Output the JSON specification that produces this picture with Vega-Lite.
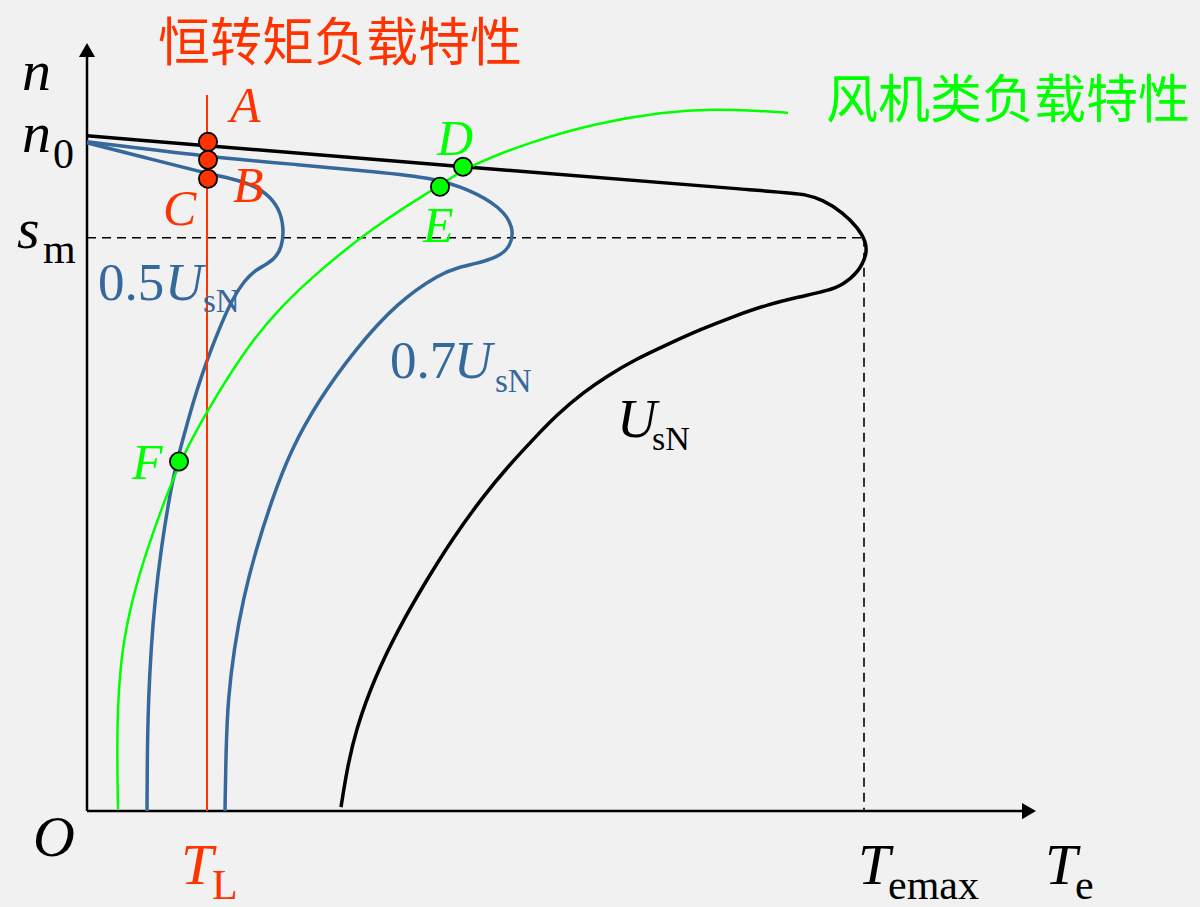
{
  "$schema": "https://vega.github.io/schema/vega-lite/v6.json",
  "width": 1200,
  "height": 907,
  "autosize": {"type": "fit", "contains": "padding"},
  "padding": 0,
  "background": "#f1f1f1",
  "config": {"view": {"stroke": null}},
  "datasets": {
    "curves": [
      {"curve": "UsN", "i": 0, "t": 0, "n": 676},
      {"curve": "UsN", "i": 1, "t": 376, "n": 645},
      {"curve": "UsN", "i": 2, "t": 701, "n": 619},
      {"curve": "UsN", "i": 3, "t": 716, "n": 618},
      {"curve": "UsN", "i": 4, "t": 736, "n": 612},
      {"curve": "UsN", "i": 5, "t": 756, "n": 599},
      {"curve": "UsN", "i": 6, "t": 771, "n": 584},
      {"curve": "UsN", "i": 7, "t": 779, "n": 570},
      {"curve": "UsN", "i": 8, "t": 780, "n": 557},
      {"curve": "UsN", "i": 9, "t": 771, "n": 539},
      {"curve": "UsN", "i": 10, "t": 756, "n": 527},
      {"curve": "UsN", "i": 11, "t": 741, "n": 521},
      {"curve": "UsN", "i": 12, "t": 713, "n": 515},
      {"curve": "UsN", "i": 13, "t": 680, "n": 507},
      {"curve": "UsN", "i": 14, "t": 646, "n": 495},
      {"curve": "UsN", "i": 15, "t": 613, "n": 482},
      {"curve": "UsN", "i": 16, "t": 580, "n": 467},
      {"curve": "UsN", "i": 17, "t": 548, "n": 452},
      {"curve": "UsN", "i": 18, "t": 521, "n": 436},
      {"curve": "UsN", "i": 19, "t": 496, "n": 419},
      {"curve": "UsN", "i": 20, "t": 470, "n": 397},
      {"curve": "UsN", "i": 21, "t": 446, "n": 372},
      {"curve": "UsN", "i": 22, "t": 421, "n": 345},
      {"curve": "UsN", "i": 23, "t": 396, "n": 315},
      {"curve": "UsN", "i": 24, "t": 365, "n": 272},
      {"curve": "UsN", "i": 25, "t": 340, "n": 232},
      {"curve": "UsN", "i": 26, "t": 311, "n": 182},
      {"curve": "UsN", "i": 27, "t": 287, "n": 132},
      {"curve": "UsN", "i": 28, "t": 269, "n": 82},
      {"curve": "UsN", "i": 29, "t": 260, "n": 42},
      {"curve": "UsN", "i": 30, "t": 254, "n": 4},

      {"curve": "0.7UsN", "i": 0, "t": 0, "n": 670},
      {"curve": "0.7UsN", "i": 1, "t": 121, "n": 655},
      {"curve": "0.7UsN", "i": 2, "t": 213, "n": 647},
      {"curve": "0.7UsN", "i": 3, "t": 290, "n": 640},
      {"curve": "0.7UsN", "i": 4, "t": 346, "n": 634},
      {"curve": "0.7UsN", "i": 5, "t": 383, "n": 622},
      {"curve": "0.7UsN", "i": 6, "t": 413, "n": 605},
      {"curve": "0.7UsN", "i": 7, "t": 427, "n": 585},
      {"curve": "0.7UsN", "i": 8, "t": 424, "n": 565},
      {"curve": "0.7UsN", "i": 9, "t": 410, "n": 554},
      {"curve": "0.7UsN", "i": 10, "t": 388, "n": 548},
      {"curve": "0.7UsN", "i": 11, "t": 371, "n": 544},
      {"curve": "0.7UsN", "i": 12, "t": 353, "n": 538},
      {"curve": "0.7UsN", "i": 13, "t": 310, "n": 509},
      {"curve": "0.7UsN", "i": 14, "t": 268, "n": 462},
      {"curve": "0.7UsN", "i": 15, "t": 232, "n": 412},
      {"curve": "0.7UsN", "i": 16, "t": 204, "n": 362},
      {"curve": "0.7UsN", "i": 17, "t": 185, "n": 312},
      {"curve": "0.7UsN", "i": 18, "t": 169, "n": 262},
      {"curve": "0.7UsN", "i": 19, "t": 156, "n": 212},
      {"curve": "0.7UsN", "i": 20, "t": 147, "n": 162},
      {"curve": "0.7UsN", "i": 21, "t": 141, "n": 112},
      {"curve": "0.7UsN", "i": 22, "t": 139, "n": 62},
      {"curve": "0.7UsN", "i": 23, "t": 138, "n": 0},

      {"curve": "0.5UsN", "i": 0, "t": 0, "n": 669},
      {"curve": "0.5UsN", "i": 1, "t": 63, "n": 653},
      {"curve": "0.5UsN", "i": 2, "t": 121, "n": 638},
      {"curve": "0.5UsN", "i": 3, "t": 146, "n": 633},
      {"curve": "0.5UsN", "i": 4, "t": 165, "n": 627},
      {"curve": "0.5UsN", "i": 5, "t": 180, "n": 618},
      {"curve": "0.5UsN", "i": 6, "t": 192, "n": 604},
      {"curve": "0.5UsN", "i": 7, "t": 197, "n": 584},
      {"curve": "0.5UsN", "i": 8, "t": 195, "n": 564},
      {"curve": "0.5UsN", "i": 9, "t": 187, "n": 552},
      {"curve": "0.5UsN", "i": 10, "t": 175, "n": 545},
      {"curve": "0.5UsN", "i": 11, "t": 168, "n": 541},
      {"curve": "0.5UsN", "i": 12, "t": 158, "n": 532},
      {"curve": "0.5UsN", "i": 13, "t": 145, "n": 512},
      {"curve": "0.5UsN", "i": 14, "t": 134, "n": 487},
      {"curve": "0.5UsN", "i": 15, "t": 124, "n": 462},
      {"curve": "0.5UsN", "i": 16, "t": 115, "n": 437},
      {"curve": "0.5UsN", "i": 17, "t": 107, "n": 412},
      {"curve": "0.5UsN", "i": 18, "t": 100, "n": 387},
      {"curve": "0.5UsN", "i": 19, "t": 93, "n": 362},
      {"curve": "0.5UsN", "i": 20, "t": 87, "n": 337},
      {"curve": "0.5UsN", "i": 21, "t": 82, "n": 312},
      {"curve": "0.5UsN", "i": 22, "t": 74, "n": 262},
      {"curve": "0.5UsN", "i": 23, "t": 68, "n": 212},
      {"curve": "0.5UsN", "i": 24, "t": 64, "n": 162},
      {"curve": "0.5UsN", "i": 25, "t": 61.5, "n": 112},
      {"curve": "0.5UsN", "i": 26, "t": 60.3, "n": 62},
      {"curve": "0.5UsN", "i": 27, "t": 60, "n": 0},

      {"curve": "fan", "i": 0, "t": 31, "n": 2},
      {"curve": "fan", "i": 1, "t": 30, "n": 62},
      {"curve": "fan", "i": 2, "t": 31, "n": 112},
      {"curve": "fan", "i": 3, "t": 35, "n": 162},
      {"curve": "fan", "i": 4, "t": 45, "n": 212},
      {"curve": "fan", "i": 5, "t": 60, "n": 262},
      {"curve": "fan", "i": 6, "t": 78, "n": 312},
      {"curve": "fan", "i": 7, "t": 93, "n": 350},
      {"curve": "fan", "i": 8, "t": 119, "n": 399},
      {"curve": "fan", "i": 9, "t": 158, "n": 462},
      {"curve": "fan", "i": 10, "t": 191, "n": 502},
      {"curve": "fan", "i": 11, "t": 226, "n": 535},
      {"curve": "fan", "i": 12, "t": 258, "n": 562},
      {"curve": "fan", "i": 13, "t": 286, "n": 583},
      {"curve": "fan", "i": 14, "t": 318, "n": 605},
      {"curve": "fan", "i": 15, "t": 351, "n": 625},
      {"curve": "fan", "i": 16, "t": 380, "n": 645},
      {"curve": "fan", "i": 17, "t": 443, "n": 670},
      {"curve": "fan", "i": 18, "t": 510, "n": 689},
      {"curve": "fan", "i": 19, "t": 576, "n": 700},
      {"curve": "fan", "i": 20, "t": 626, "n": 703},
      {"curve": "fan", "i": 21, "t": 676, "n": 701},
      {"curve": "fan", "i": 22, "t": 701, "n": 699}
    ],
    "axes": [
      {"axis": "n", "i": 0, "t": 0, "n": 0},
      {"axis": "n", "i": 1, "t": 0, "n": 757},
      {"axis": "T", "i": 0, "t": 0, "n": 0},
      {"axis": "T", "i": 1, "t": 936, "n": 0}
    ],
    "arrows": [
      {"axis": "n", "t": 0, "n": 762},
      {"axis": "T", "t": 942, "n": 0}
    ],
    "guides": [
      {"g": "h", "i": 0, "t": 0, "n": 574},
      {"g": "h", "i": 1, "t": 777, "n": 574},
      {"g": "v", "i": 0, "t": 777, "n": 574},
      {"g": "v", "i": 1, "t": 777, "n": 0}
    ],
    "load": [
      {"i": 0, "t": 120, "n": 0},
      {"i": 1, "t": 120, "n": 717}
    ],
    "points": [
      {"set": "load", "name": "A", "t": 121, "n": 670},
      {"set": "load", "name": "B", "t": 121, "n": 652},
      {"set": "load", "name": "C", "t": 121, "n": 633},
      {"set": "fan", "name": "D", "t": 376, "n": 645},
      {"set": "fan", "name": "E", "t": 353, "n": 625},
      {"set": "fan", "name": "F", "t": 92, "n": 350}
    ],
    "labels": [
      {"role": "var", "text": "n", "t": -65, "n": 722},
      {"role": "var", "text": "n", "t": -65, "n": 660},
      {"role": "sub", "text": "0", "t": -34, "n": 644},
      {"role": "var", "text": "s", "t": -70, "n": 564},
      {"role": "sub", "text": "m", "t": -44, "n": 549},
      {"role": "var", "text": "O", "t": -54, "n": -45},
      {"role": "var", "text": "T", "t": 771, "n": -73},
      {"role": "sub", "text": "emax", "t": 801, "n": -88},
      {"role": "var", "text": "T", "t": 958, "n": -73},
      {"role": "sub", "text": "e", "t": 988, "n": -88},
      {"role": "varRed", "text": "T", "t": 94, "n": -73},
      {"role": "subRed", "text": "L", "t": 125, "n": -88},
      {"role": "ptRed", "text": "A", "t": 143, "n": 690},
      {"role": "ptRed", "text": "B", "t": 146, "n": 610},
      {"role": "ptRed", "text": "C", "t": 76, "n": 587},
      {"role": "ptGreen", "text": "D", "t": 350, "n": 657},
      {"role": "ptGreen", "text": "E", "t": 336, "n": 570},
      {"role": "ptGreen", "text": "F", "t": 45, "n": 332},
      {"role": "numBlue", "text": "0.5", "t": 11, "n": 512},
      {"role": "uBlue", "text": "U", "t": 78, "n": 512},
      {"role": "subBlue", "text": "sN", "t": 116, "n": 500},
      {"role": "numBlue", "text": "0.7", "t": 303, "n": 434},
      {"role": "uBlue", "text": "U", "t": 367, "n": 434},
      {"role": "subBlue", "text": "sN", "t": 408, "n": 420},
      {"role": "uBlack", "text": "U", "t": 530, "n": 375},
      {"role": "subBlack", "text": "sN", "t": 565, "n": 362},
      {"role": "titleRed", "text": "恒转矩负载特性", "t": 253, "n": 767},
      {"role": "titleGreen", "text": "风机类负载特性", "t": 921, "n": 710}
    ]
  },
  "encoding": {
    "x": {"field": "t", "type": "quantitative", "scale": {"domain": [-87, 1113], "nice": false, "zero": false}, "axis": null},
    "y": {"field": "n", "type": "quantitative", "scale": {"domain": [-95, 812], "nice": false, "zero": false}, "axis": null}
  },
  "layer": [
    {
      "data": {"name": "guides"},
      "mark": {"type": "line", "color": "#000000", "strokeWidth": 1.6, "strokeDash": [9, 6]},
      "encoding": {"detail": {"field": "g"}, "order": {"field": "i"}}
    },
    {
      "data": {"name": "axes"},
      "mark": {"type": "line", "color": "#000000", "strokeWidth": 2.5},
      "encoding": {"detail": {"field": "axis"}, "order": {"field": "i"}}
    },
    {
      "data": {"name": "arrows"},
      "transform": [{"filter": "datum.axis == 'n'"}],
      "mark": {"type": "point", "shape": "triangle-up", "filled": true, "color": "#000000", "size": 260, "opacity": 1}
    },
    {
      "data": {"name": "arrows"},
      "transform": [{"filter": "datum.axis == 'T'"}],
      "mark": {"type": "point", "shape": "triangle-right", "filled": true, "color": "#000000", "size": 260, "opacity": 1}
    },
    {
      "data": {"name": "curves"},
      "transform": [{"filter": "datum.curve == 'UsN'"}],
      "mark": {"type": "line", "color": "#000000", "strokeWidth": 3.5, "interpolate": "basis"},
      "encoding": {"order": {"field": "i"}}
    },
    {
      "data": {"name": "curves"},
      "transform": [{"filter": "datum.curve == '0.7UsN' || datum.curve == '0.5UsN'"}],
      "mark": {"type": "line", "color": "#35689b", "strokeWidth": 3.5, "interpolate": "basis"},
      "encoding": {"detail": {"field": "curve"}, "order": {"field": "i"}}
    },
    {
      "data": {"name": "load"},
      "mark": {"type": "line", "color": "#ff3300", "strokeWidth": 2},
      "encoding": {"order": {"field": "i"}}
    },
    {
      "data": {"name": "curves"},
      "transform": [{"filter": "datum.curve == 'fan'"}],
      "mark": {"type": "line", "color": "#00ff00", "strokeWidth": 2.5, "interpolate": "basis"},
      "encoding": {"order": {"field": "i"}}
    },
    {
      "data": {"name": "points"},
      "transform": [{"filter": "datum.set == 'load'"}],
      "mark": {"type": "point", "shape": "circle", "filled": true, "fill": "#ff3300", "stroke": "#000000", "strokeWidth": 1.8, "size": 330, "opacity": 1}
    },
    {
      "data": {"name": "points"},
      "transform": [{"filter": "datum.set == 'fan'"}],
      "mark": {"type": "point", "shape": "circle", "filled": true, "fill": "#00ff00", "stroke": "#000000", "strokeWidth": 1.8, "size": 330, "opacity": 1}
    },
    {
      "data": {"name": "labels"},
      "transform": [{"filter": "datum.role == 'var'"}],
      "mark": {"type": "text", "align": "left", "baseline": "alphabetic", "font": "Liberation Serif", "fontStyle": "italic", "fontSize": 58, "color": "#000000"},
      "encoding": {"text": {"field": "text"}}
    },
    {
      "data": {"name": "labels"},
      "transform": [{"filter": "datum.role == 'sub'"}],
      "mark": {"type": "text", "align": "left", "baseline": "alphabetic", "font": "Liberation Serif", "fontSize": 42, "color": "#000000"},
      "encoding": {"text": {"field": "text"}}
    },
    {
      "data": {"name": "labels"},
      "transform": [{"filter": "datum.role == 'varRed'"}],
      "mark": {"type": "text", "align": "left", "baseline": "alphabetic", "font": "Liberation Serif", "fontStyle": "italic", "fontSize": 58, "color": "#ff3300"},
      "encoding": {"text": {"field": "text"}}
    },
    {
      "data": {"name": "labels"},
      "transform": [{"filter": "datum.role == 'subRed'"}],
      "mark": {"type": "text", "align": "left", "baseline": "alphabetic", "font": "Liberation Serif", "fontSize": 42, "color": "#ff3300"},
      "encoding": {"text": {"field": "text"}}
    },
    {
      "data": {"name": "labels"},
      "transform": [{"filter": "datum.role == 'ptRed'"}],
      "mark": {"type": "text", "align": "left", "baseline": "alphabetic", "font": "Liberation Serif", "fontStyle": "italic", "fontSize": 50, "color": "#ff3300"},
      "encoding": {"text": {"field": "text"}}
    },
    {
      "data": {"name": "labels"},
      "transform": [{"filter": "datum.role == 'ptGreen'"}],
      "mark": {"type": "text", "align": "left", "baseline": "alphabetic", "font": "Liberation Serif", "fontStyle": "italic", "fontSize": 50, "color": "#00ff00"},
      "encoding": {"text": {"field": "text"}}
    },
    {
      "data": {"name": "labels"},
      "transform": [{"filter": "datum.role == 'numBlue'"}],
      "mark": {"type": "text", "align": "left", "baseline": "alphabetic", "font": "Liberation Serif", "fontSize": 53, "color": "#35689b"},
      "encoding": {"text": {"field": "text"}}
    },
    {
      "data": {"name": "labels"},
      "transform": [{"filter": "datum.role == 'uBlue'"}],
      "mark": {"type": "text", "align": "left", "baseline": "alphabetic", "font": "Liberation Serif", "fontStyle": "italic", "fontSize": 53, "color": "#35689b"},
      "encoding": {"text": {"field": "text"}}
    },
    {
      "data": {"name": "labels"},
      "transform": [{"filter": "datum.role == 'subBlue'"}],
      "mark": {"type": "text", "align": "left", "baseline": "alphabetic", "font": "Liberation Serif", "fontSize": 33, "color": "#35689b"},
      "encoding": {"text": {"field": "text"}}
    },
    {
      "data": {"name": "labels"},
      "transform": [{"filter": "datum.role == 'uBlack'"}],
      "mark": {"type": "text", "align": "left", "baseline": "alphabetic", "font": "Liberation Serif", "fontStyle": "italic", "fontSize": 55, "color": "#000000"},
      "encoding": {"text": {"field": "text"}}
    },
    {
      "data": {"name": "labels"},
      "transform": [{"filter": "datum.role == 'subBlack'"}],
      "mark": {"type": "text", "align": "left", "baseline": "alphabetic", "font": "Liberation Serif", "fontSize": 34, "color": "#000000"},
      "encoding": {"text": {"field": "text"}}
    },
    {
      "data": {"name": "labels"},
      "transform": [{"filter": "datum.role == 'titleRed'"}],
      "mark": {"type": "text", "align": "center", "baseline": "middle", "font": "Noto Sans CJK SC", "fontSize": 52, "color": "#ff3300"},
      "encoding": {"text": {"field": "text"}}
    },
    {
      "data": {"name": "labels"},
      "transform": [{"filter": "datum.role == 'titleGreen'"}],
      "mark": {"type": "text", "align": "center", "baseline": "middle", "font": "Noto Sans CJK SC", "fontSize": 52, "color": "#00ff00"},
      "encoding": {"text": {"field": "text"}}
    }
  ]
}
